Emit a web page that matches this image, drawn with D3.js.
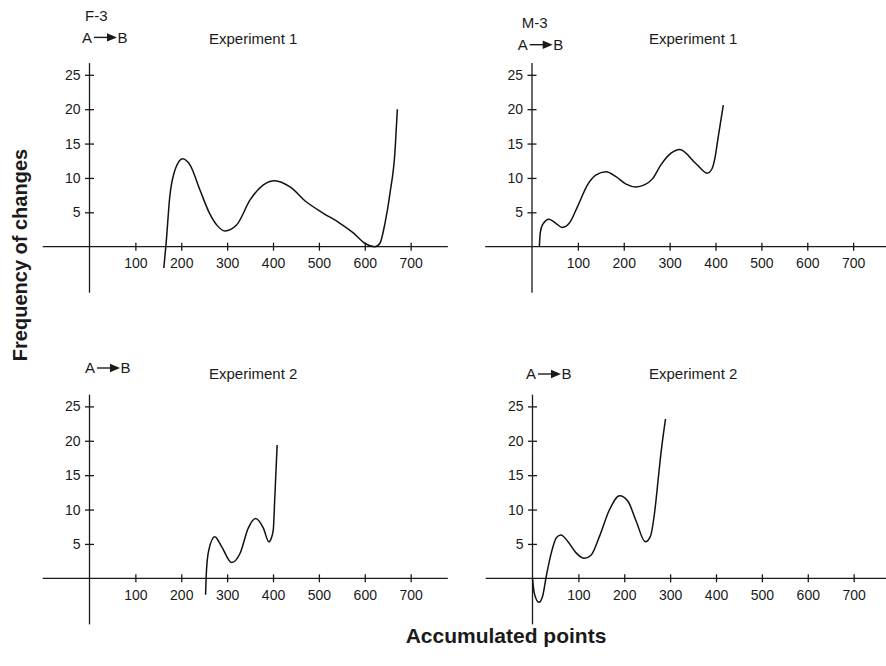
<!DOCTYPE html>
<html>
<head>
<meta charset="utf-8">
<script src="https://cdn.jsdelivr.net/npm/d3@7"></script>
<style>
  body { margin: 0; background: #fff; }
  text { font-family: Arial, "Liberation Sans", Helvetica, sans-serif; fill: #1a1a1a; }
  .tick line, .axis-line { stroke: #1a1a1a; stroke-width: 1.3; }
  .curve { fill: none; stroke: #111; stroke-width: 1.5; }
</style>
</head>
<body>
<div id="chart"></div>
<script>
// tick values shared by all four panels
var xTicks = [100, 200, 300, 400, 500, 600, 700];
var yTicks = [5, 10, 15, 20, 25];

// F-3, experiment 1 (accumulated points, frequency of changes)
var f3Exp1X = [162, 167, 175, 186, 203, 219, 241, 262, 278, 295, 321, 350, 379, 404, 437, 473, 509, 546, 575, 600, 622, 633, 644, 655, 666, 671];
var f3Exp1Y = [-3.1, 0.5, 7.3, 11.1, 12.8, 11.9, 8.2, 4.8, 3.1, 2.3, 3.2, 6.8, 9.0, 9.6, 8.7, 6.5, 4.9, 3.4, 2.0, 0.5, 0, 0.5, 3.4, 7.8, 14, 20];

// M-3, experiment 1
var m3Exp1X = [16, 18, 23, 37, 52, 66, 81, 99, 121, 139, 161, 183, 205, 226, 245, 263, 281, 303, 322, 357, 382, 392, 399, 406, 417];
var m3Exp1Y = [0, 2.0, 3.2, 4.0, 3.4, 2.8, 3.4, 5.8, 9.0, 10.4, 10.9, 10.2, 9.1, 8.7, 9.0, 9.9, 11.9, 13.6, 14.15, 12.1, 10.7, 11.3, 13, 16, 20.6];

// F-3, experiment 2
var f3Exp2X = [253, 255, 260, 273, 288, 310, 328, 346, 362, 379, 391, 396, 400.5, 404, 409];
var f3Exp2Y = [-2.4, 1.2, 4.1, 6.05, 4.6, 2.3, 3.6, 7.3, 8.7, 7.3, 5.3, 5.8, 7.0, 11.9, 19.4];

// M-3, experiment 2
var m3Exp2X = [0, 4, 14, 22, 30, 41, 52, 62, 77, 95, 113, 128, 146, 168, 190, 208, 226, 246, 257, 266, 275, 280, 290];
var m3Exp2Y = [0, -2.2, -3.5, -2.6, 0.3, 3.7, 5.9, 6.3, 5.35, 3.7, 2.9, 3.4, 6.1, 10, 12, 11.2, 8.3, 5.3, 6.1, 9.5, 15.1, 18.2, 23.2];

var width = 886, height = 666;
var pxPerX = 0.4588, pxPerY = 6.876;

var svg = d3.select("#chart").append("svg")
  .attr("width", width)
  .attr("height", height);

var panels = [
  {xs: f3Exp1X, ys: f3Exp1Y, ox: 89.5, oy: 246.7, subject: "F-3", subjectPos: [85, 21], arrowPos: [82, 42.7], title: "Experiment 1", titlePos: [209, 44]},
  {xs: m3Exp1X, ys: m3Exp1Y, ox: 532, oy: 246.7, subject: "M-3", subjectPos: [521.7, 28.3], arrowPos: [517.7, 50], title: "Experiment 1", titlePos: [649, 44]},
  {xs: f3Exp2X, ys: f3Exp2Y, ox: 89.5, oy: 578.3, subject: null, arrowPos: [85, 373.3], title: "Experiment 2", titlePos: [209, 379]},
  {xs: m3Exp2X, ys: m3Exp2Y, ox: 532.5, oy: 578.3, subject: null, arrowPos: [526, 379.3], title: "Experiment 2", titlePos: [649, 379]}
];

panels.forEach(function(p){
  var x = d3.scaleLinear().domain([0, 700]).range([p.ox, p.ox + 700 * pxPerX]);
  var y = d3.scaleLinear().domain([0, 25]).range([p.oy, p.oy - 25 * pxPerY]);

  // main axis lines (extend past the ticks like the original)
  svg.append("line").attr("class", "axis-line")
    .attr("x1", x(-102)).attr("x2", x(781))
    .attr("y1", y(0)).attr("y2", y(0));
  svg.append("line").attr("class", "axis-line")
    .attr("x1", x(0)).attr("x2", x(0))
    .attr("y1", y(-6.7)).attr("y2", y(26.7));

  // x ticks
  var gx = svg.append("g")
    .attr("transform", "translate(0," + y(0) + ")")
    .call(d3.axisBottom(x).tickValues(xTicks).tickSize(4).tickPadding(7.6));
  gx.select(".domain").remove();
  gx.selectAll(".tick line").attr("y1", -4).attr("y2", 4);
  gx.selectAll("text").attr("font-size", 14).attr("fill", "#1a1a1a");

  // y ticks
  var gy = svg.append("g")
    .attr("transform", "translate(" + x(0) + ",0)")
    .call(d3.axisLeft(y).tickValues(yTicks).tickSize(4).tickPadding(5));
  gy.select(".domain").remove();
  gy.selectAll(".tick line").attr("x1", 4.5).attr("x2", -4.5);
  gy.selectAll("text").attr("font-size", 14).attr("fill", "#1a1a1a");

  // curve
  var pts = p.xs.map(function(d, i){ return [d, p.ys[i]]; });
  var line = d3.line()
    .x(function(d){ return x(d[0]); })
    .y(function(d){ return y(d[1]); })
    .curve(d3.curveMonotoneX);
  svg.append("path").datum(pts).attr("class", "curve").attr("d", line);

  // labels
  if (p.subject) {
    svg.append("text")
      .attr("x", p.subjectPos[0]).attr("y", p.subjectPos[1])
      .attr("font-size", 15)
      .text(p.subject);
  }
  var ax = p.arrowPos[0], ay = p.arrowPos[1];
  svg.append("text").attr("x", ax).attr("y", ay).attr("font-size", 15).text("A");
  svg.append("line")
    .attr("x1", ax + 12).attr("x2", ax + 26)
    .attr("y1", ay - 5.3).attr("y2", ay - 5.3)
    .attr("stroke", "#1a1a1a").attr("stroke-width", 1.4);
  svg.append("path")
    .attr("d", "M" + (ax + 25) + "," + (ay - 9.5) + "L" + (ax + 35) + "," + (ay - 5.3) + "L" + (ax + 25) + "," + (ay - 1.1) + "Z")
    .attr("fill", "#1a1a1a");
  svg.append("text").attr("x", ax + 35.5).attr("y", ay).attr("font-size", 15).text("B");

  svg.append("text")
    .attr("x", p.titlePos[0]).attr("y", p.titlePos[1])
    .attr("font-size", 15)
    .text(p.title);
});

// shared axis titles
svg.append("text")
  .attr("text-anchor", "middle")
  .attr("transform", "translate(27,255)rotate(-90)")
  .attr("font-size", 20)
  .attr("font-weight", "bold")
  .text("Frequency of changes");

svg.append("text")
  .attr("text-anchor", "middle")
  .attr("x", 506).attr("y", 643)
  .attr("font-size", 21)
  .attr("font-weight", "bold")
  .text("Accumulated points");
</script>
</body>
</html>
